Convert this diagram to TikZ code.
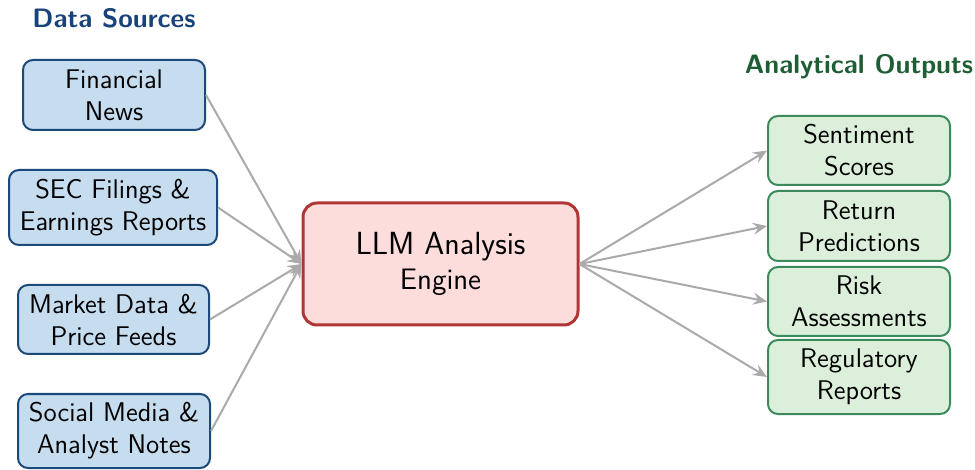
\documentclass[tikz,border=0pt]{standalone}
\usetikzlibrary{arrows.meta}
\definecolor{srcfill}{HTML}{C6DCEF}
\definecolor{srcdraw}{HTML}{1B4A7A}
\definecolor{srchead}{HTML}{17427A}
\definecolor{outfill}{HTML}{DCEFDA}
\definecolor{outdraw}{HTML}{3C8A5C}
\definecolor{outhead}{HTML}{1E5E35}
\definecolor{corefill}{HTML}{FDDCDC}
\definecolor{coredraw}{HTML}{B03535}
\definecolor{flow}{HTML}{AAAAAA}
\begin{document}
\begin{tikzpicture}[x=0.5pt,y=-0.5pt,
  boxtext/.style={font=\sffamily\fontsize{13.5}{16}\selectfont, align=center, inner sep=0pt, rounded corners=5pt, line width=1pt},
  srcbox/.style={boxtext, draw=srcdraw, fill=srcfill},
  outbox/.style={boxtext, draw=outdraw, fill=outfill, minimum width=91pt},
  corebox/.style={draw=coredraw, fill=corefill, line width=1.5pt, rounded corners=7pt, align=center, inner sep=0pt, minimum width=137.5pt, minimum height=61pt},
  heading/.style={font=\sffamily\bfseries\fontsize{13.3}{16}\selectfont},
  flowline/.style={draw=flow, line width=1pt, -{Stealth[length=7pt,width=6pt,inset=2.5pt]}}]
\useasboundingbox (0,0) rectangle (975,470);

% section headings
\node[heading, text=srchead] (hsrc) at (114,18) {Data Sources};
\node[heading, text=outhead] (hout) at (859,67) {Analytical Outputs};

% input sources
\node[srcbox, minimum width=91pt, minimum height=35pt] (news) at (114,95) {Financial\\News};
\node[srcbox, minimum width=104pt, minimum height=37.5pt] (sec) at (113,207.5) {SEC Filings \&\\Earnings Reports};
\node[srcbox, minimum width=95.5pt, minimum height=34.5pt] (market) at (113.5,319.5) {Market Data \&\\Price Feeds};
\node[srcbox, minimum width=96pt, minimum height=37pt] (social) at (114,431) {Social Media \&\\Analyst Notes};

% central engine
\node[corebox] (llm) at (440.5,264) {{\sffamily\fontsize{16}{18}\selectfont LLM Analysis}\\[3pt]{\sffamily\fontsize{14.8}{18}\selectfont Engine}};

% outputs
\node[outbox, minimum height=34.5pt] (sent) at (859,150.5) {Sentiment\\Scores};
\node[outbox, minimum height=35pt] (ret) at (859,226) {Return\\Predictions};
\node[outbox, minimum height=34.5pt] (risk) at (859,301.5) {Risk\\Assessments};
\node[outbox, minimum height=37pt] (reg) at (859,377) {Regulatory\\Reports};

% data flow
\foreach \s in {news,sec,market,social}
  \draw[flowline] (\s.east) -- (llm.west);
\foreach \t in {sent,ret,risk,reg}
  \draw[flowline] (llm.east) -- (\t.west);
\end{tikzpicture}
\end{document}
